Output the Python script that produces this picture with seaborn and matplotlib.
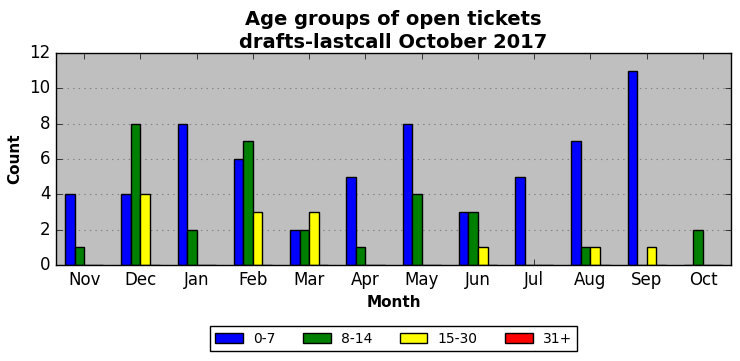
import pandas as pd
import seaborn as sns
import matplotlib.pyplot as plt

# Data
months = ['Nov', 'Dec', 'Jan', 'Feb', 'Mar', 'Apr', 'May', 'Jun', 'Jul', 'Aug', 'Sep', 'Oct']
groups = ['0-7', '8-14', '15-30', '31+']
age_0_7 = [4, 4, 8, 6, 2, 5, 8, 3, 5, 7, 11, 0]
age_8_14 = [1, 8, 2, 7, 2, 1, 4, 3, 0, 1, 0, 2]
age_15_30 = [0, 4, 0, 3, 3, 0, 0, 1, 0, 1, 1, 0]
age_31_plus = [0, 0, 0, 0, 0, 0, 0, 0, 0, 0, 0, 0]
colors = ['blue', 'green', 'yellow', 'red']

rows = []
for grp, vals in zip(groups, [age_0_7, age_8_14, age_15_30, age_31_plus]):
    for m, v in zip(months, vals):
        rows.append({'Month': m, 'Group': grp, 'Count': v})
df = pd.DataFrame(rows)

plt.style.use('classic')
fig = plt.figure(figsize=(7.4, 3.61), dpi=100)
ax = fig.add_axes([0.0757, 0.266, 0.9123, 0.587])

sns.barplot(data=df, x='Month', y='Count', hue='Group', order=months,
            hue_order=groups, palette=colors, width=0.68, gap=0,
            edgecolor='black', linewidth=1, saturation=1, ax=ax)

ax.set_facecolor('#bfbfbf')
ax.set_axisbelow(True)
ax.yaxis.grid(True, linestyle=':', color='#808080', linewidth=0.8)
ax.xaxis.grid(False)
ax.set_xlim(-0.5, 11.5)
ax.set_ylim(0, 12)
ax.set_yticks(range(0, 13, 2))
ax.tick_params(labelsize=12, direction='in', top=True, right=True)
ax.set_xlabel('Month', fontsize=11, fontweight='bold')
ax.set_ylabel('Count', fontsize=11, fontweight='bold')
ax.set_title('Age groups of open tickets\ndrafts-lastcall October 2017',
             fontsize=14, fontweight='bold', linespacing=1.25, pad=4)

ax.legend(loc='upper center', bbox_to_anchor=(0.5, -0.255), ncol=4,
          fontsize=10, frameon=True, fancybox=False, edgecolor='black',
          handlelength=2.0, handletextpad=0.7, columnspacing=2.0,
          borderpad=0.4)

fig.savefig('out.png', dpi=100)
